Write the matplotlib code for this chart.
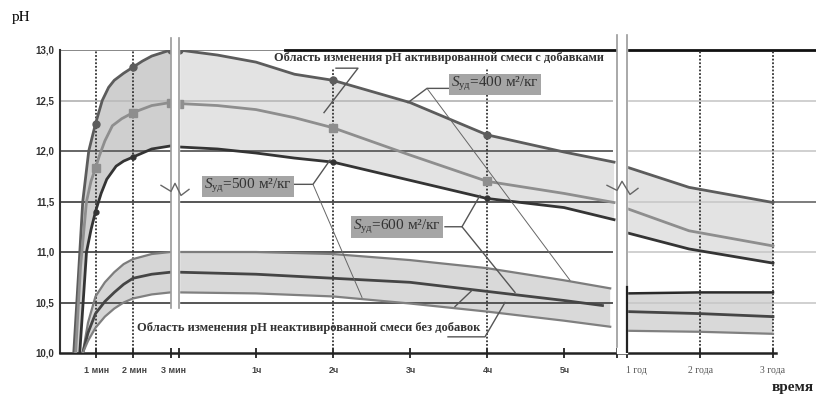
import matplotlib.pyplot as plt
import numpy as np
from matplotlib.transforms import blended_transform_factory

plt.rcParams.update({
    "font.family": "Liberation Serif",
    "mathtext.fontset": "custom",
    "mathtext.rm": "Liberation Serif",
    "mathtext.it": "Liberation Serif:italic",
})

# activated mix, minutes segment (t in min)
act_top_t = [0.42, 0.55, 0.66, 0.82, 1.0, 1.18, 1.35, 1.5, 1.75, 2.0, 2.25, 2.5, 2.75, 3.0]
act_top_min = [10.0, 10.8, 11.5, 12.0, 12.27, 12.5, 12.63, 12.7, 12.77, 12.83, 12.89, 12.94, 12.97, 13.0]
act_mid_t = [0.47, 0.6, 0.76, 0.88, 1.0, 1.1, 1.25, 1.45, 1.7, 2.0, 2.5, 3.0]
act_mid_min = [10.0, 10.85, 11.5, 11.7, 11.83, 11.95, 12.1, 12.25, 12.32, 12.38, 12.45, 12.48]
act_bot_t = [0.58, 0.76, 0.88, 1.0, 1.15, 1.3, 1.55, 1.75, 2.0, 2.5, 3.0]
act_bot_min = [10.0, 11.0, 11.22, 11.40, 11.58, 11.72, 11.85, 11.9, 11.94, 12.02, 12.05]

# activated mix, hours segment
act_h = [0, 0.5, 1, 1.5, 2, 3, 4, 5, 5.65]
act_top_h = [13.0, 12.95, 12.88, 12.76, 12.70, 12.48, 12.16, 11.99, 11.89]
act_mid_h = [12.47, 12.45, 12.41, 12.33, 12.23, 11.96, 11.70, 11.58, 11.49]
act_bot_h = [12.04, 12.02, 11.98, 11.93, 11.89, 11.71, 11.53, 11.44, 11.32]

# activated mix, years segment
act_y = [1.0, 1.85, 3.0]
act_top_y = [11.84, 11.64, 11.49]
act_mid_y = [11.43, 11.21, 11.06]
act_bot_y = [11.19, 11.03, 10.89]

# non-activated mix
non_t = [0.66, 0.8, 1.0, 1.25, 1.5, 1.75, 2.0, 2.5, 3.0]
non_up_min = [10.0, 10.3, 10.56, 10.70, 10.80, 10.88, 10.93, 10.98, 11.0]
non_mid_min = [10.0, 10.2, 10.39, 10.51, 10.60, 10.68, 10.74, 10.78, 10.80]
non_low_min = [10.0, 10.12, 10.25, 10.36, 10.44, 10.50, 10.54, 10.58, 10.60]
non_h = [0, 1, 2, 3, 4, 5, 5.6]
non_mid_hh = [0, 1, 2, 3, 4, 5, 5.5]
non_up_h = [11.0, 11.0, 10.98, 10.92, 10.84, 10.72, 10.64]
non_mid_h = [10.80, 10.78, 10.74, 10.70, 10.61, 10.52, 10.47]
non_low_h = [10.60, 10.59, 10.56, 10.49, 10.41, 10.32, 10.26]
non_y = [1.0, 2.0, 3.0]
non_up_y = [10.59, 10.60, 10.60]
non_mid_y = [10.41, 10.39, 10.36]
non_low_y = [10.22, 10.21, 10.19]

y_ticks = [10.0, 10.5, 11.0, 11.5, 12.0, 12.5, 13.0]
min_ticks = [1, 2, 3]
hour_ticks = [1, 2, 3, 4, 5]
year_ticks = [1, 2, 3]
min_labels = ["1 мин", "2 мин", "3 мин"]
hour_labels = ["1ч", "2ч", "3ч", "4ч", "5ч"]
year_labels = ["1 год", "2 года", "3 года"]


# broken time axis -> horizontal position
def x_min(t):
    return 58 + 37.5 * np.asarray(t, dtype=float)


def x_hour(h):
    return 179 + 77 * np.asarray(h, dtype=float)


def x_year(y):
    return 627 + 73 * (np.asarray(y, dtype=float) - 1)


fig = plt.figure(figsize=(8.16, 4.0), dpi=100)
ax = fig.add_axes([60 / 816, 47 / 400, 756 / 816, 303 / 400])
ax.set_xlim(60, 816)
ax.set_ylim(10, 13)
for s in ["top", "right"]:
    ax.spines[s].set_visible(False)
ax.spines["left"].set_color("#333333")
ax.spines["left"].set_linewidth(1.5)
ax.spines["bottom"].set_color("#222222")
ax.spines["bottom"].set_linewidth(1.8)
ax.spines["bottom"].set_bounds(60, 776)

LIGHT = "#e3e3e3"
MINFILL = "#cfcfcf"


def band(x1, y1, x2, y2, color):
    ax.fill(np.concatenate([x1, x2[::-1]]), np.concatenate([y1, y2[::-1]]),
            color=color, lw=0, zorder=1)


# shaded regions
band(x_min(act_top_t), np.array(act_top_min), x_min(act_bot_t), np.array(act_bot_min), MINFILL)
band(x_hour(act_h), np.array(act_top_h), x_hour(act_h), np.array(act_bot_h), LIGHT)
band(x_year(act_y), np.array(act_top_y), x_year(act_y), np.array(act_bot_y), LIGHT)
band(x_min(non_t), np.array(non_up_min), x_min(non_t), np.array(non_low_min), "#d6d6d6")
band(x_hour(non_h), np.array(non_up_h), x_hour(non_h), np.array(non_low_h), "#d9d9d9")
band(x_year(non_y), np.array(non_up_y), x_year(non_y), np.array(non_low_y), "#d9d9d9")

# horizontal grid
main_grid = {13.0: "#888888", 12.5: "#bdbdbd", 12.0: "#666666",
             11.5: "#555555", 11.0: "#555555", 10.5: "#555555"}
for yv, c in main_grid.items():
    ax.plot([60, 612], [yv, yv], color=c, lw=1.4, zorder=1.5)
for yv in [12.5, 12.0, 11.5, 11.0, 10.5]:
    ax.plot([627, 816], [yv, yv], color="#c8c8c8", lw=1.2, zorder=1.5)
ax.plot([773, 816], [11.5, 11.5], color="#777777", lw=1.3, zorder=1.6)
ax.plot([285, 816], [13.0, 13.0], color="#111111", lw=2.0, zorder=1.6, clip_on=False)

# dotted verticals
vdot = dict(color="#333333", lw=1.3, ls=(0, (1, 1)), zorder=1.8)
for xv in x_min([1, 2]):
    ax.plot([xv, xv], [10, 13], **vdot)
for xv in x_hour([2, 4]):
    ax.plot([xv, xv], [10, 12.82], **vdot)
for xv in x_year([2, 3]):
    ax.plot([xv, xv], [10, 13], **vdot)

# activated curves
styles = [("#5c5c5c", "o", 5), ("#8e8e8e", "s", 6), ("#343434", "o", 3.5)]
seg_min = [(act_top_t, act_top_min), (act_mid_t, act_mid_min), (act_bot_t, act_bot_min)]
seg_h = [act_top_h, act_mid_h, act_bot_h]
seg_y = [act_top_y, act_mid_y, act_bot_y]
for i, (c, m, ms) in enumerate(styles):
    t, v = seg_min[i]
    keep = (1.0, 2.0, 3.0) if i < 2 else (1.0, 2.0)
    mk = [k for k, tv in enumerate(t) if tv in keep]
    ax.plot(x_min(t), v, color=c, lw=2.0, marker=m, ms=ms, markevery=mk, zorder=3)
    mkh = [k for k, hv in enumerate(act_h) if hv in (2, 4)]
    if i < 2:
        mkh = [0] + mkh
    ax.plot(x_hour(act_h), seg_h[i], color=c, lw=2.0, marker=m, ms=ms, markevery=mkh, zorder=3)
    ax.plot(x_year(act_y), seg_y[i], color=c, lw=2.0, zorder=3)

# non-activated curves
ax.plot(x_min(non_t), non_up_min, color="#7d7d7d", lw=1.6, zorder=3)
ax.plot(x_min(non_t), non_mid_min, color="#454545", lw=2.0, zorder=3)
ax.plot(x_min(non_t), non_low_min, color="#808080", lw=1.6, zorder=3)
ax.plot(x_hour(non_h), non_up_h, color="#7d7d7d", lw=1.6, zorder=3)
ax.plot(x_hour(non_mid_hh), non_mid_h, color="#454545", lw=2.0, zorder=3)
ax.plot(x_hour(non_h), non_low_h, color="#808080", lw=1.6, zorder=3)
ax.plot(x_year(non_y), non_up_y, color="#2a2a2a", lw=1.8, zorder=3)
ax.plot(x_year(non_y), non_mid_y, color="#454545", lw=2.0, zorder=3)
ax.plot(x_year(non_y), non_low_y, color="#808080", lw=1.6, zorder=3)

# axis breaks
ax.fill_between([171, 179], 10.45, 13.12, color="white", zorder=4, clip_on=False)
for xv in [171, 179]:
    ax.plot([xv, xv], [10.45, 13.12], color="#9a9a9a", lw=1.2, zorder=4.1, clip_on=False)
ax.plot([161, 171, 175, 181, 189], [11.66, 11.60, 11.68, 11.56, 11.62],
        color="#666666", lw=1.0, zorder=4.2)
ax.fill_between([617, 627], 10.0, 13.15, color="white", zorder=4, clip_on=False)
ax.plot([617, 617], [10.06, 13.15], color="#9a9a9a", lw=1.2, zorder=4.1, clip_on=False)
ax.plot([627, 627], [10.65, 13.15], color="#9a9a9a", lw=1.2, zorder=4.1, clip_on=False)
ax.plot([627, 627], [10.0, 10.65], color="#222222", lw=1.6, zorder=4.1)
ax.plot([607, 617, 622, 630, 638], [11.66, 11.61, 11.70, 11.57, 11.63],
        color="#666666", lw=1.0, zorder=4.2)

# ticks and labels
ax.set_yticks(y_ticks)
ax.set_yticklabels([f"{v:.1f}".replace(".", ",") for v in y_ticks],
                   fontfamily="Liberation Sans", fontweight="bold", fontsize=7, color="#333333")
ax.tick_params(axis="y", length=0, pad=4)
tick_x = list(x_min(min_ticks)) + [179] + list(x_hour(hour_ticks)) + [617] + list(x_year(year_ticks))
ax.set_xticks(tick_x)
ax.set_xticklabels([""] * len(tick_x))
ax.tick_params(axis="x", direction="inout", length=7, width=1.4, color="#333333")

trans = blended_transform_factory(ax.transData, ax.transAxes)
for xv, lab in zip(list(x_min(min_ticks)) + list(x_hour(hour_ticks)), min_labels + hour_labels):
    ax.text(xv + (3 if lab == "3 мин" else 1), -0.058, lab, transform=trans, ha="center", va="center",
            fontfamily="Liberation Sans", fontweight="bold", fontsize=6.5, color="#444444")
for xv, lab in zip(x_year(year_ticks), year_labels):
    ax.text(xv + (9 if lab == "1 год" else 0), -0.058, lab, transform=trans, ha="center",
            va="center", fontsize=7, color="#555555")

fig.text(12 / 816, 1 - 18 / 400, "pH", fontsize=11, va="center", ha="left")
fig.text(814 / 816, 1 - 388 / 400, "время", fontsize=11, fontweight="bold",
         va="center", ha="right", color="#222222")

# annotations
ax.text(439, 12.92, "Область изменения pH активированной смеси с добавками",
        ha="center", va="center", fontsize=8.8, fontweight="bold", color="#333333", zorder=5)
ax.text(309, 10.25, "Область изменения pH неактивированной смеси без добавок",
        ha="center", va="center", fontsize=9, fontweight="bold", color="#333333", zorder=5)

lead = dict(color="#555555", lw=1.0, zorder=4.5)
ax.plot([336, 358, 324], [12.82, 12.82, 12.38], **lead)
ax.plot([450, 427, 408], [12.62, 12.62, 12.48], **lead)
ax.plot([427, 570], [12.62, 10.72], color="#666666", lw=0.7, zorder=4.5)
ax.plot([293, 313, 330], [11.67, 11.67, 11.91], **lead)
ax.plot([313, 362], [11.67, 10.55], color="#666666", lw=0.7, zorder=4.5)
ax.plot([445, 462, 480], [11.25, 11.25, 11.56], **lead)
ax.plot([462, 515], [11.25, 10.60], **lead)
ax.plot([448, 485, 505], [10.16, 10.16, 10.50], **lead)
ax.plot([455, 472], [10.46, 10.62], **lead)

box = dict(boxstyle="square,pad=0.12", fc="#a5a5a5", ec="none")
for xc, yc, val in [(495, 12.66, 400), (248, 11.65, 500), (397, 11.25, 600)]:
    ax.text(xc, yc, r"$S_{\mathrm{уд}}$" + f"={val} м²/кг", ha="center", va="center",
            fontsize=11, color="#333333", bbox=box, zorder=5)

fig.savefig("out.png", dpi=100)
